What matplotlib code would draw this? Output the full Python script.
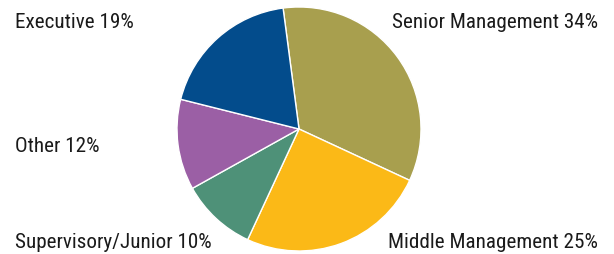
import matplotlib
matplotlib.use("Agg")
import matplotlib.pyplot as plt
from matplotlib import font_manager

categories = ["Senior Management", "Middle Management", "Supervisory/Junior", "Other", "Executive"]
values = [34, 25, 10, 12, 19]
colors = ["#A89F4E", "#FBB917", "#4E9178", "#9B5FA5", "#034C8C"]

names = {f.name for f in font_manager.fontManager.ttflist}
fam = "Roboto Condensed" if "Roboto Condensed" in names else ("Liberation Sans Narrow" if "Liberation Sans Narrow" in names else "Roboto")

fig = plt.figure(figsize=(6.14, 2.55), dpi=100)
ax = fig.add_axes([0, 0, 1, 1])

ax.pie(values, colors=colors, startangle=97.5, counterclock=False,
       center=(299, 125), radius=122, frame=True,
       wedgeprops=dict(edgecolor="white", linewidth=1))
ax.set_xlim(0, 614)
ax.set_ylim(0, 255)
ax.set_aspect("equal")
ax.axis("off")

fs = 15.2
col = "#1a1a1a"
lab = {c: f"{c} {v}%" for c, v in zip(categories, values)}
ax.text(15, 232, lab["Executive"], ha="left", va="center", fontsize=fs, family=fam, color=col)
ax.text(598, 232, lab["Senior Management"], ha="right", va="center", fontsize=fs, family=fam, color=col)
ax.text(15, 109, lab["Other"], ha="left", va="center", fontsize=fs, family=fam, color=col)
ax.text(15, 12, lab["Supervisory/Junior"], ha="left", va="center", fontsize=fs, family=fam, color=col)
ax.text(598, 12, lab["Middle Management"], ha="right", va="center", fontsize=fs, family=fam, color=col)

fig.savefig("out.png", dpi=100)
